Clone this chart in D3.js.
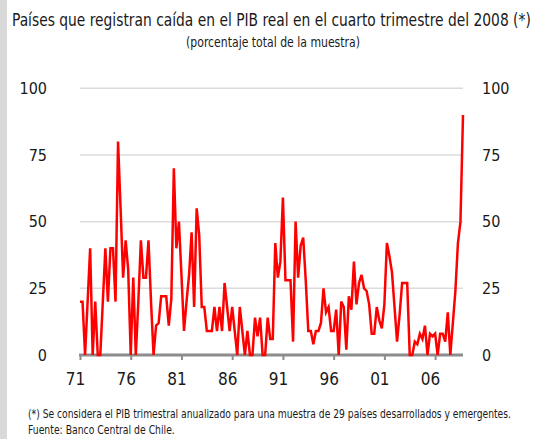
<!DOCTYPE html>
<html>
<head>
<meta charset="utf-8">
<script src="https://cdn.jsdelivr.net/npm/d3@7/dist/d3.min.js"></script>
<style>
  body { margin: 0; background: #fff; }
  svg text { font-family: "Liberation Sans Narrow", "DejaVu Sans Condensed", "Arial Narrow", sans-serif; fill: #1a1a1a; }
</style>
</head>
<body>
<svg id="chart" width="544" height="439"></svg>
<script>
// quarterly share of countries with falling GDP, 1971 Q1 .. 2008 Q4
var startYear = 1971;
var shareValues = [
  20, 20, 0, 20, 40, 0, 20, 0, 0, 20,
  40, 20, 40, 40, 20, 80, 55, 29, 43, 32,
  0, 29, 0, 20, 43, 29, 29, 43, 20, 0,
  11, 12, 22, 22, 22, 11, 21, 70, 40, 50,
  30, 9, 20, 30, 46, 18, 55, 45, 18, 18,
  9, 9, 9, 18, 9, 18, 9, 27, 18, 9,
  18, 9, 0, 18, 9, 0, 9, 0, 0, 14,
  7, 14, 0, 0, 14, 6, 6, 42, 29, 35,
  59, 28, 28, 28, 5, 50, 29, 41, 44, 28,
  9, 9, 4, 9, 9, 12, 25, 16, 18, 9,
  9, 17, 0, 20, 18, 2, 22, 17, 35, 19,
  27, 30, 25, 24, 19, 8, 8, 18, 13, 10,
  19, 42, 37, 31, 18, 5, 15, 27, 27, 27,
  0, 0, 5, 4, 8, 6, 11, 0, 8, 7,
  8, 0, 8, 8, 5, 16, 0, 12, 24, 42,
  50, 90
];
var tickYears = [1971, 1976, 1981, 1986, 1991, 1996, 2001, 2006];
var tickLabels = ["71", "76", "81", "86", "91", "96", "01", "06"];
var yTicks = [0, 25, 50, 75, 100];

var titleText = "Países que registran caída en el PIB real en el cuarto trimestre del 2008 (*)";
var subtitleText = "(porcentaje total de la muestra)";
var noteLines = [
  "(*) Se considera el PIB trimestral anualizado para una muestra de 29 países desarrollados y emergentes.",
  "Fuente: Banco Central de Chile."
];

var svg = d3.select("#chart");

// squeeze a text horizontally so it looks like the narrow font of the original
function narrow(sel, x0, y0, factor) {
    sel.attr("transform", "translate(" + x0 + "," + y0 + ") scale(" + factor + ",1)");
}

// grey strip on the left edge
svg.append("rect").attr("x", 0).attr("y", 0).attr("width", 7).attr("height", 439).attr("fill", "#d9d9d9");

var plot_data = shareValues.map(function (v, i) { return [startYear + i / 4, v]; });

var x = d3.scaleLinear()
    .domain([startYear, startYear + (shareValues.length - 1) / 4])
    .range([80, 463]);
var y = d3.scaleLinear().domain([0, 100]).range([355, 88.3]);

// gridlines
svg.append("g").selectAll("line")
    .data(yTicks.filter(function (d) { return d > 0; }))
    .enter().append("line")
    .attr("x1", 80).attr("x2", 463)
    .attr("y1", function (d) { return y(d); })
    .attr("y2", function (d) { return y(d); })
    .attr("stroke", "#dcdcdc")
    .attr("stroke-width", 1.5);

// y labels, both sides
svg.append("g").selectAll("text")
    .data(yTicks).enter().append("text")
    .attr("x", 47)
    .attr("y", function (d) { return y(d); })
    .attr("dy", "0.35em")
    .attr("text-anchor", "end")
    .attr("font-size", 16)
    .text(function (d) { return d; });

svg.append("g").selectAll("text")
    .data(yTicks).enter().append("text")
    .attr("x", 482)
    .attr("y", function (d) { return y(d); })
    .attr("dy", "0.35em")
    .attr("font-size", 16)
    .text(function (d) { return d; });

// x axis
var xAxis = d3.axisBottom(x)
    .tickValues(tickYears)
    .tickSize(5)
    .tickSizeOuter(0)
    .tickFormat(function (d, i) { return tickLabels[i]; });

var gx = svg.append("g")
    .attr("transform", "translate(0," + y(0) + ")")
    .call(xAxis);
gx.select(".domain").attr("stroke", "#8c8c8c").attr("stroke-width", 3)
    .attr("d", "M" + (x.range()[0] - 1) + ",0H" + x.range()[1]);
gx.selectAll(".tick line").attr("stroke", "#8c8c8c").attr("stroke-width", 2);
gx.selectAll(".tick text")
    .attr("font-size", 17)
    .attr("font-family", null)
    .attr("fill", "#1a1a1a")
    .attr("x", -5)
    .attr("y", 18);

// line
var line = d3.line()
    .x(function (d) { return x(d[0]); })
    .y(function (d) { return y(d[1]); });

svg.append("path")
    .datum(plot_data)
    .attr("fill", "none")
    .attr("stroke", "#ff0000")
    .attr("stroke-width", 2.5)
    .attr("d", line);

// title, subtitle and notes
var title = svg.append("text")
    .attr("font-size", 18)
    .text(titleText);
narrow(title, 12, 25.5, 519 / title.node().getComputedTextLength());

var sub = svg.append("text")
    .attr("text-anchor", "middle")
    .attr("font-size", 13.5)
    .text(subtitleText);
narrow(sub, 273, 46.5, 174 / sub.node().getComputedTextLength());

svg.append("g").selectAll("text")
    .data(noteLines).enter().append("text")
    .attr("font-size", 12)
    .text(function (d) { return d; })
    .each(function (d, i) {
        var t = d3.select(this);
        narrow(t, 28, 418 + i * 16, i === 0 ? 484 / this.getComputedTextLength() : 0.86);
    });
</script>
</body>
</html>
